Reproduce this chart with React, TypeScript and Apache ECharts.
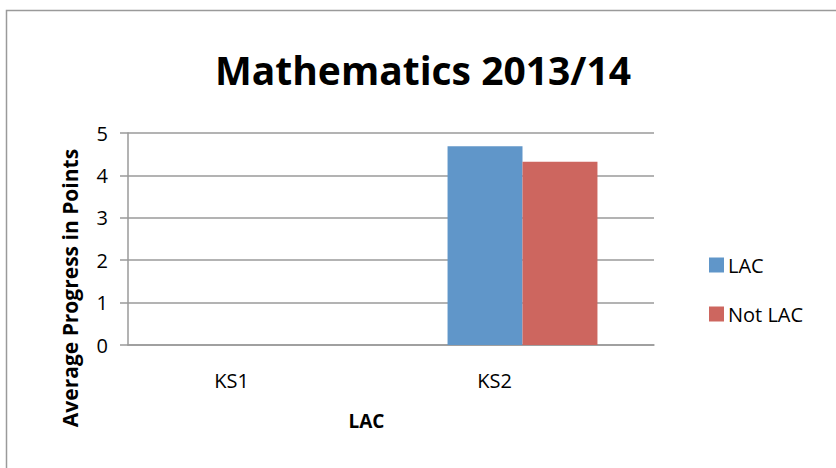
import React, { useEffect, useRef } from "react";
import * as echarts from "echarts";

const categories = ["KS1", "KS2"];
const lacValues: (number | null)[] = [null, 4.69];
const notLacValues: (number | null)[] = [null, 4.32];
const yTicks = [0, 1, 2, 3, 4, 5];

const FONT = "'Open Sans', 'Noto Sans', sans-serif";

export default function App() {
  const ref = useRef<HTMLDivElement>(null);
  useEffect(() => {
    if (!ref.current) return;
    const chart = echarts.init(ref.current, undefined, { renderer: "svg" });
    chart.setOption({
      animation: false,
      backgroundColor: "#ffffff",
      textStyle: { fontFamily: FONT },
      title: {
        text: "Mathematics 2013/14",
        left: 418,
        textAlign: "center",
        top: 45,
        textStyle: { fontFamily: FONT, fontSize: 39, fontWeight: "bold", color: "#000" },
      },
      legend: {
        orient: "vertical",
        left: 704,
        top: 250,
        itemWidth: 15,
        itemHeight: 15,
        itemGap: 29,
        icon: "rect",
        textStyle: { fontFamily: FONT, fontSize: 20, color: "#000", padding: [0, 0, 0, -1] },
        data: ["LAC", "Not LAC"],
      },
      grid: { left: 128, top: 133, right: 182, bottom: 123, containLabel: false },
      xAxis: {
        type: "category",
        data: categories,
        name: "LAC",
        nameLocation: "middle",
        nameGap: 66,
        nameTextStyle: { fontFamily: FONT, fontSize: 19, fontWeight: "bold", color: "#000", padding: [0, 49, 0, 0] },
        axisLine: { lineStyle: { color: "#9a9a9a", width: 1.5 } },
        axisTick: { show: false },
        axisLabel: { fontFamily: FONT, fontSize: 20, color: "#000", margin: 25, padding: [0, 56, 0, 0] },
      },
      yAxis: {
        type: "value",
        min: 0,
        max: 5,
        interval: 1,
        axisLine: { show: true, lineStyle: { color: "#9a9a9a", width: 1.5 } },
        axisTick: { show: true, inside: false, length: 8, lineStyle: { color: "#9a9a9a", width: 1.5 } },
        axisLabel: { fontFamily: FONT, fontSize: 20, color: "#000", margin: 20 },
        splitLine: { show: true, lineStyle: { color: "#9a9a9a", width: 1.5 } },
      },
      graphic: [
        {
          type: "rect",
          shape: { x: 6.5, y: 10.5, width: 900, height: 600 },
          style: { fill: "none", stroke: "#9a9a9a", lineWidth: 1.5 },
          silent: true,
          z: -1,
        },
        {
          type: "text",
          x: 70,
          y: 288,
          rotation: Math.PI / 2,
          style: {
            text: "Average Progress in Points",
            font: `bold 21px ${FONT}`,
            fill: "#000",
            align: "center",
            verticalAlign: "middle",
          },
        },
      ],
      series: [
        {
          name: "LAC",
          type: "bar",
          data: lacValues,
          itemStyle: { color: "#6096c9" },
          barGap: "0%",
          barCategoryGap: "43%",
        },
        {
          name: "Not LAC",
          type: "bar",
          data: notLacValues,
          itemStyle: { color: "#cd665f" },
        },
      ],
    });
    return () => chart.dispose();
  }, []);
  return <div ref={ref} style={{ width: 836, height: 468, position: "absolute", left: 0, top: 0 }} />;
}
